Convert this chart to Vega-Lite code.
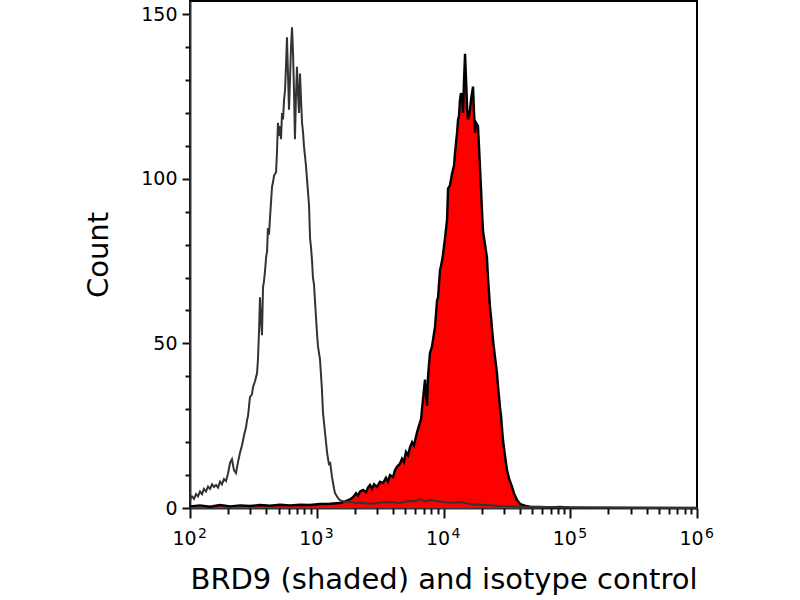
{
  "$schema": "https://vega.github.io/schema/vega-lite/v6.json",
  "width": 507,
  "height": 507,
  "autosize": "none",
  "padding": {"left": 190, "top": 1, "right": 103, "bottom": 92},
  "background": "white",
  "config": {
    "view": {"stroke": "black", "strokeWidth": 2},
    "font": "DejaVu Sans",
    "axis": {
      "grid": false,
      "domainColor": "#333333",
      "domainWidth": 2,
      "tickColor": "#111111",
      "tickWidth": 2,
      "labelColor": "black",
      "labelFont": "DejaVu Sans",
      "labelFontSize": 19,
      "titleFont": "DejaVu Sans",
      "titleFontSize": 29,
      "titleFontWeight": "normal",
      "titleColor": "black"
    }
  },
  "datasets": {
    "brd9": [
      {"log10_fl": 2.000, "count": 0.5}, {"log10_fl": 2.079, "count": 0.8}, {"log10_fl": 2.158, "count": 0.4},
      {"log10_fl": 2.237, "count": 0.9}, {"log10_fl": 2.316, "count": 0.5}, {"log10_fl": 2.394, "count": 0.8},
      {"log10_fl": 2.473, "count": 0.6}, {"log10_fl": 2.552, "count": 0.9}, {"log10_fl": 2.631, "count": 0.7},
      {"log10_fl": 2.710, "count": 1.0}, {"log10_fl": 2.789, "count": 0.8}, {"log10_fl": 2.868, "count": 1.0},
      {"log10_fl": 2.947, "count": 0.9}, {"log10_fl": 3.026, "count": 1.2}, {"log10_fl": 3.105, "count": 1.3},
      {"log10_fl": 3.183, "count": 1.5}, {"log10_fl": 3.223, "count": 2.0}, {"log10_fl": 3.262, "count": 2.6},
      {"log10_fl": 3.286, "count": 3.3}, {"log10_fl": 3.310, "count": 4.5}, {"log10_fl": 3.325, "count": 3.8},
      {"log10_fl": 3.341, "count": 5.0}, {"log10_fl": 3.365, "count": 5.5}, {"log10_fl": 3.389, "count": 4.8},
      {"log10_fl": 3.404, "count": 6.2}, {"log10_fl": 3.420, "count": 7.0}, {"log10_fl": 3.436, "count": 5.8},
      {"log10_fl": 3.452, "count": 7.2}, {"log10_fl": 3.475, "count": 6.4}, {"log10_fl": 3.499, "count": 8.0},
      {"log10_fl": 3.523, "count": 7.6}, {"log10_fl": 3.546, "count": 9.2}, {"log10_fl": 3.562, "count": 8.0},
      {"log10_fl": 3.578, "count": 10.0}, {"log10_fl": 3.602, "count": 9.4}, {"log10_fl": 3.617, "count": 11.5},
      {"log10_fl": 3.633, "count": 12.5}, {"log10_fl": 3.657, "count": 13.5}, {"log10_fl": 3.673, "count": 15.0},
      {"log10_fl": 3.688, "count": 14.0}, {"log10_fl": 3.704, "count": 17.0}, {"log10_fl": 3.720, "count": 16.0},
      {"log10_fl": 3.736, "count": 18.5}, {"log10_fl": 3.752, "count": 20.0}, {"log10_fl": 3.767, "count": 19.0},
      {"log10_fl": 3.791, "count": 23.0}, {"log10_fl": 3.807, "count": 25.0}, {"log10_fl": 3.823, "count": 27.0},
      {"log10_fl": 3.830, "count": 30.0}, {"log10_fl": 3.846, "count": 36.0}, {"log10_fl": 3.854, "count": 39.0},
      {"log10_fl": 3.862, "count": 34.0}, {"log10_fl": 3.870, "count": 31.0}, {"log10_fl": 3.878, "count": 40.0},
      {"log10_fl": 3.893, "count": 47.0}, {"log10_fl": 3.909, "count": 49.0}, {"log10_fl": 3.925, "count": 53.0},
      {"log10_fl": 3.933, "count": 55.0}, {"log10_fl": 3.941, "count": 59.0}, {"log10_fl": 3.949, "count": 63.0},
      {"log10_fl": 3.957, "count": 64.0}, {"log10_fl": 3.972, "count": 72.0}, {"log10_fl": 3.988, "count": 75.0},
      {"log10_fl": 3.996, "count": 77.0}, {"log10_fl": 4.012, "count": 82.0}, {"log10_fl": 4.028, "count": 87.5},
      {"log10_fl": 4.036, "count": 97.0}, {"log10_fl": 4.051, "count": 98.0}, {"log10_fl": 4.067, "count": 101.5},
      {"log10_fl": 4.083, "count": 104.0}, {"log10_fl": 4.091, "count": 108.0}, {"log10_fl": 4.107, "count": 114.0},
      {"log10_fl": 4.115, "count": 118.0}, {"log10_fl": 4.122, "count": 119.0}, {"log10_fl": 4.130, "count": 124.0},
      {"log10_fl": 4.138, "count": 126.0}, {"log10_fl": 4.146, "count": 125.0}, {"log10_fl": 4.154, "count": 120.0},
      {"log10_fl": 4.162, "count": 130.0}, {"log10_fl": 4.170, "count": 138.0}, {"log10_fl": 4.178, "count": 130.0},
      {"log10_fl": 4.186, "count": 122.0}, {"log10_fl": 4.193, "count": 118.0}, {"log10_fl": 4.201, "count": 119.0},
      {"log10_fl": 4.209, "count": 121.0}, {"log10_fl": 4.217, "count": 124.0}, {"log10_fl": 4.225, "count": 126.0},
      {"log10_fl": 4.233, "count": 128.0}, {"log10_fl": 4.241, "count": 120.0}, {"log10_fl": 4.249, "count": 114.0},
      {"log10_fl": 4.257, "count": 117.0}, {"log10_fl": 4.272, "count": 116.0}, {"log10_fl": 4.280, "count": 110.0},
      {"log10_fl": 4.288, "count": 103.5}, {"log10_fl": 4.296, "count": 97.0}, {"log10_fl": 4.304, "count": 90.0},
      {"log10_fl": 4.312, "count": 84.0}, {"log10_fl": 4.328, "count": 80.0}, {"log10_fl": 4.343, "count": 76.0},
      {"log10_fl": 4.351, "count": 70.0}, {"log10_fl": 4.367, "count": 61.0}, {"log10_fl": 4.375, "count": 58.0},
      {"log10_fl": 4.391, "count": 51.0}, {"log10_fl": 4.406, "count": 46.0}, {"log10_fl": 4.422, "count": 41.0},
      {"log10_fl": 4.430, "count": 37.0}, {"log10_fl": 4.446, "count": 30.5}, {"log10_fl": 4.454, "count": 28.0},
      {"log10_fl": 4.462, "count": 24.0}, {"log10_fl": 4.470, "count": 20.5}, {"log10_fl": 4.485, "count": 16.0},
      {"log10_fl": 4.501, "count": 11.5}, {"log10_fl": 4.517, "count": 9.0}, {"log10_fl": 4.541, "count": 6.4},
      {"log10_fl": 4.556, "count": 4.5}, {"log10_fl": 4.580, "count": 2.4}, {"log10_fl": 4.604, "count": 1.3},
      {"log10_fl": 4.620, "count": 1.0}, {"log10_fl": 4.651, "count": 0.6}, {"log10_fl": 4.683, "count": 0.4},
      {"log10_fl": 4.761, "count": 0.3}, {"log10_fl": 4.840, "count": 0.2}, {"log10_fl": 4.919, "count": 0.3},
      {"log10_fl": 4.998, "count": 0.1}, {"log10_fl": 5.235, "count": 0.1}, {"log10_fl": 6.000, "count": 0}
    ],
    "isotype": [
      {"log10_fl": 2.000, "count": 2.5}, {"log10_fl": 2.016, "count": 3.5}, {"log10_fl": 2.032, "count": 2.8},
      {"log10_fl": 2.047, "count": 4.2}, {"log10_fl": 2.063, "count": 3.5}, {"log10_fl": 2.079, "count": 5.0},
      {"log10_fl": 2.095, "count": 4.2}, {"log10_fl": 2.110, "count": 5.8}, {"log10_fl": 2.126, "count": 5.0},
      {"log10_fl": 2.142, "count": 6.5}, {"log10_fl": 2.158, "count": 5.8}, {"log10_fl": 2.174, "count": 7.2},
      {"log10_fl": 2.189, "count": 6.4}, {"log10_fl": 2.205, "count": 7.0}, {"log10_fl": 2.221, "count": 6.2},
      {"log10_fl": 2.237, "count": 8.0}, {"log10_fl": 2.252, "count": 7.2}, {"log10_fl": 2.268, "count": 8.8},
      {"log10_fl": 2.284, "count": 8.2}, {"log10_fl": 2.300, "count": 10.5}, {"log10_fl": 2.316, "count": 13.7},
      {"log10_fl": 2.331, "count": 14.8}, {"log10_fl": 2.347, "count": 11.5}, {"log10_fl": 2.363, "count": 10.6},
      {"log10_fl": 2.379, "count": 14.0}, {"log10_fl": 2.394, "count": 16.7}, {"log10_fl": 2.410, "count": 19.0},
      {"log10_fl": 2.426, "count": 22.0}, {"log10_fl": 2.442, "count": 24.5}, {"log10_fl": 2.450, "count": 26.7},
      {"log10_fl": 2.458, "count": 28.0}, {"log10_fl": 2.473, "count": 33.7}, {"log10_fl": 2.489, "count": 34.5},
      {"log10_fl": 2.497, "count": 36.7}, {"log10_fl": 2.513, "count": 38.5}, {"log10_fl": 2.529, "count": 41.0},
      {"log10_fl": 2.536, "count": 45.0}, {"log10_fl": 2.544, "count": 53.0}, {"log10_fl": 2.552, "count": 64.0},
      {"log10_fl": 2.560, "count": 57.0}, {"log10_fl": 2.568, "count": 52.5}, {"log10_fl": 2.576, "count": 67.0},
      {"log10_fl": 2.584, "count": 69.0}, {"log10_fl": 2.592, "count": 72.0}, {"log10_fl": 2.600, "count": 76.0},
      {"log10_fl": 2.608, "count": 78.0}, {"log10_fl": 2.615, "count": 85.0}, {"log10_fl": 2.623, "count": 83.0},
      {"log10_fl": 2.631, "count": 88.0}, {"log10_fl": 2.647, "count": 97.5}, {"log10_fl": 2.655, "count": 99.0},
      {"log10_fl": 2.663, "count": 101.0}, {"log10_fl": 2.679, "count": 102.0}, {"log10_fl": 2.686, "count": 108.0},
      {"log10_fl": 2.694, "count": 117.0}, {"log10_fl": 2.702, "count": 113.0}, {"log10_fl": 2.710, "count": 116.0},
      {"log10_fl": 2.718, "count": 112.0}, {"log10_fl": 2.726, "count": 120.0}, {"log10_fl": 2.734, "count": 118.0},
      {"log10_fl": 2.742, "count": 124.0}, {"log10_fl": 2.750, "count": 127.0}, {"log10_fl": 2.757, "count": 134.0},
      {"log10_fl": 2.765, "count": 143.0}, {"log10_fl": 2.773, "count": 132.0}, {"log10_fl": 2.781, "count": 121.0},
      {"log10_fl": 2.789, "count": 130.0}, {"log10_fl": 2.797, "count": 140.0}, {"log10_fl": 2.805, "count": 146.0},
      {"log10_fl": 2.813, "count": 138.0}, {"log10_fl": 2.821, "count": 126.0}, {"log10_fl": 2.828, "count": 112.0},
      {"log10_fl": 2.836, "count": 125.0}, {"log10_fl": 2.844, "count": 134.0}, {"log10_fl": 2.852, "count": 126.0},
      {"log10_fl": 2.860, "count": 120.0}, {"log10_fl": 2.868, "count": 132.0}, {"log10_fl": 2.876, "count": 124.0},
      {"log10_fl": 2.884, "count": 117.0}, {"log10_fl": 2.892, "count": 114.0}, {"log10_fl": 2.899, "count": 110.0},
      {"log10_fl": 2.915, "count": 104.0}, {"log10_fl": 2.931, "count": 96.0}, {"log10_fl": 2.939, "count": 92.0},
      {"log10_fl": 2.947, "count": 82.0}, {"log10_fl": 2.955, "count": 79.0}, {"log10_fl": 2.963, "count": 75.0},
      {"log10_fl": 2.970, "count": 70.0}, {"log10_fl": 2.978, "count": 68.0}, {"log10_fl": 2.994, "count": 58.0},
      {"log10_fl": 3.002, "count": 53.0}, {"log10_fl": 3.010, "count": 49.0}, {"log10_fl": 3.026, "count": 45.0},
      {"log10_fl": 3.041, "count": 36.0}, {"log10_fl": 3.049, "count": 29.0}, {"log10_fl": 3.057, "count": 26.0},
      {"log10_fl": 3.073, "count": 20.0}, {"log10_fl": 3.081, "count": 17.0}, {"log10_fl": 3.097, "count": 13.0},
      {"log10_fl": 3.105, "count": 14.0}, {"log10_fl": 3.120, "count": 9.5}, {"log10_fl": 3.136, "count": 6.0},
      {"log10_fl": 3.144, "count": 4.5}, {"log10_fl": 3.168, "count": 3.0}, {"log10_fl": 3.183, "count": 2.4},
      {"log10_fl": 3.223, "count": 1.8}, {"log10_fl": 3.262, "count": 2.0}, {"log10_fl": 3.302, "count": 1.5},
      {"log10_fl": 3.341, "count": 1.6}, {"log10_fl": 3.420, "count": 1.3}, {"log10_fl": 3.499, "count": 1.6},
      {"log10_fl": 3.578, "count": 1.8}, {"log10_fl": 3.657, "count": 1.5}, {"log10_fl": 3.736, "count": 2.2},
      {"log10_fl": 3.775, "count": 2.0}, {"log10_fl": 3.815, "count": 2.8}, {"log10_fl": 3.854, "count": 2.0},
      {"log10_fl": 3.893, "count": 2.4}, {"log10_fl": 3.972, "count": 2.0}, {"log10_fl": 4.051, "count": 1.6},
      {"log10_fl": 4.130, "count": 1.8}, {"log10_fl": 4.209, "count": 1.2}, {"log10_fl": 4.288, "count": 1.0},
      {"log10_fl": 4.367, "count": 0.8}, {"log10_fl": 4.446, "count": 0.6}, {"log10_fl": 4.604, "count": 0.4},
      {"log10_fl": 4.761, "count": 0.3}, {"log10_fl": 4.919, "count": 0.2}, {"log10_fl": 5.235, "count": 0.1},
      {"log10_fl": 6.000, "count": 0}
    ]
  },
  "resolve": {"axis": {"x": "independent", "y": "independent"}},
  "layer": [
    {
      "data": {"name": "brd9"},
      "mark": {"type": "area", "color": "#ff0000", "interpolate": "linear"},
      "encoding": {
        "x": {
          "field": "log10_fl",
          "type": "quantitative",
          "scale": {"domain": [2, 6], "nice": false, "zero": false},
          "axis": {
            "orient": "bottom",
            "values": [2, 3, 4, 5, 6],
            "labelExpr": "'10'",
            "labelOffset": -6,
            "tickSize": 10,
            "labelPadding": 11,
            "labelFlush": false,
            "title": "BRD9 (shaded) and isotype control",
            "titlePadding": 17
          }
        },
        "y": {
          "field": "count",
          "type": "quantitative",
          "scale": {"domain": [0, 154], "nice": false},
          "axis": {
            "orient": "left",
            "values": [0, 50, 100, 150],
            "tickSize": 8,
            "labelPadding": 5,
            "labelFlush": false,
            "title": "Count",
            "titlePadding": 27
          }
        }
      }
    },
    {
      "data": {"name": "brd9"},
      "mark": {"type": "line", "color": "black", "strokeWidth": 2.4},
      "encoding": {
        "x": {
          "field": "log10_fl",
          "type": "quantitative",
          "axis": {
            "orient": "bottom",
            "values": [2, 3, 4, 5, 6],
            "labelExpr": "datum.value",
            "labelFontSize": 14,
            "labelOffset": 12,
            "labelPadding": 18,
            "labelFlush": false,
            "ticks": false,
            "domain": false,
            "title": null
          }
        },
        "y": {"field": "count", "type": "quantitative", "axis": null}
      }
    },
    {
      "data": {"name": "isotype"},
      "mark": {"type": "line", "color": "#333333", "strokeWidth": 2},
      "encoding": {
        "x": {
          "field": "log10_fl",
          "type": "quantitative",
          "axis": {
            "orient": "bottom",
            "values": [2.301, 2.477, 2.602, 2.699, 2.778, 2.845, 2.903, 2.954,
                       3.301, 3.477, 3.602, 3.699, 3.778, 3.845, 3.903, 3.954,
                       4.301, 4.477, 4.602, 4.699, 4.778, 4.845, 4.903, 4.954,
                       5.301, 5.477, 5.602, 5.699, 5.778, 5.845, 5.903, 5.954],
            "tickSize": 6,
            "labels": false,
            "domain": false,
            "title": null
          }
        },
        "y": {
          "field": "count",
          "type": "quantitative",
          "axis": {
            "orient": "left",
            "values": [10, 20, 30, 40, 60, 70, 80, 90, 110, 120, 130, 140],
            "tickSize": 5,
            "labels": false,
            "domain": false,
            "title": null
          }
        }
      }
    }
  ]
}
